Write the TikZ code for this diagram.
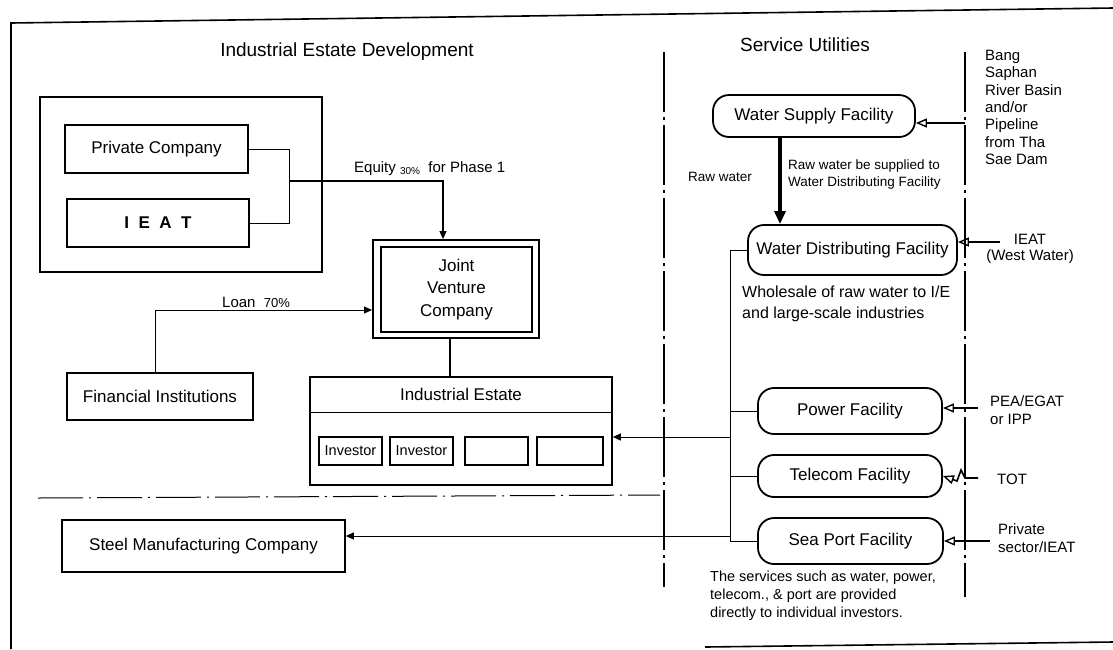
\documentclass[tikz,border=0pt]{standalone}
\usepackage{fontspec}
\setmainfont{Liberation Sans}
\usetikzlibrary{arrows.meta}
\newcommand{\fsz}[2]{\fontsize{#1}{#2}\selectfont}
\begin{document}
\begin{tikzpicture}[x=1pt,y=-1pt,
  box/.style={draw, line width=1.6pt, inner sep=0pt, align=center, font=\fsz{17}{20}},
  invbox/.style={draw, line width=1.3pt, inner sep=0pt, minimum height=28pt, font=\fsz{14.5}{16}},
  fac/.style={draw, line width=1.8pt, rounded corners=16pt, inner sep=0pt, align=center, font=\fsz{17}{20}},
  conn/.style={line width=1pt},
  arr/.style={conn, -{Triangle[length=8pt,width=7pt]}},
  thickarr/.style={line width=4pt, -{Triangle[length=13pt,width=11pt]}},
  src/.style={line width=1.6pt, -{Triangle[open,length=11pt,width=9pt,line width=1.4pt]}},
  sepv/.style={line width=2.4pt, dash pattern=on 60pt off 5pt on 3pt off 5pt},
  sepr/.style={line width=1.8pt, dash pattern=on 60pt off 5pt on 3pt off 5pt},
  seph/.style={line width=1pt, dash pattern=on 45pt off 6pt on 2pt off 6pt},
  lbl/.style={inner sep=0pt, align=left},
  frame/.style={line width=1.6pt}
]
\useasboundingbox (0,0) rectangle (1113,649);

% outer frame
\draw[frame] (11,649) -- (11,23) -- (1113,8);
\draw[frame] (705,647) -- (1113,642);

% separators
\draw[sepv] (664,52) -- (664,587);
\draw[sepr] (965,52) -- (965,597);
\draw[seph] (38,498) -- (660,495);

% titles
\node[lbl, font=\fsz{19}{22}] (t1) at (347,52) {Industrial Estate Development};
\node[lbl, font=\fsz{19}{22}] (t2) at (805,45) {Service Utilities};

% left group
\node[draw, line width=1.4pt, minimum width=282pt, minimum height=175pt, inner sep=0pt] (grp) at (181,184.5) {};
\node[box, minimum width=183pt, minimum height=48pt] (pc) at (156.5,149) {Private Company};
\node[box, minimum width=182pt, minimum height=48pt, font=\fsz{17}{20}\bfseries] (ieat) at (158,223) {I~~E~~A~~T};

% joint venture
\node[draw, line width=2pt, minimum width=166pt, minimum height=98pt, inner sep=0pt] (jvo) at (456,289) {};
\node[box, line width=1.1pt, minimum width=151pt, minimum height=85pt, font=\fsz{17}{22.5}] (jvi) at (456.5,289.5) {Joint\\Venture\\Company};

% financial institutions
\node[box, minimum width=186pt, minimum height=47pt] (fi) at (160,396.5) {Financial Institutions};

% industrial estate
\node[draw, line width=1.6pt, minimum width=302pt, minimum height=108pt, inner sep=0pt] (ie) at (461,431) {};
\coordinate (sepy) at (0,412);
\draw[line width=1pt] (ie.west |- sepy) -- (ie.east |- sepy);
\node[lbl, font=\fsz{17}{20}] (ietitle) at (461,394) {Industrial Estate};
\node[invbox, minimum width=63pt] (inv1) at (350.5,451) {Investor};
\node[invbox, minimum width=63pt] (inv2) at (421.5,451) {Investor};
\node[invbox, minimum width=63pt] (inv3) at (496.5,451) {};
\node[invbox, minimum width=66pt] (inv4) at (570,451) {};

% steel
\node[box, minimum width=283pt, minimum height=52pt] (steel) at (203.5,546) {Steel Manufacturing Company};

% left connectors
\coordinate (eqj) at (290,181);
\draw[conn] (pc.east) -- ++(41,0) |- (ieat.east);
\draw[arr, line width=1.4pt] (eqj) -| ([xshift=-13pt]jvo.north);
\node[lbl, anchor=west, font=\fsz{15}{18}] (eqlbl) at (354,169) {Equity \raisebox{-2pt}{\fsz{10}{12}30\%}\ \ for Phase 1};
\draw[arr] ([xshift=-5pt]fi.north) |- ([yshift=-21pt]jvo.west);
\node[lbl, anchor=west, font=\fsz{15}{18}] (loanlbl) at (222,302) {Loan\ \ {\fsz{13}{15}70\%}};
\draw[line width=1.6pt] ([xshift=-6pt]jvo.south) -- ([xshift=-6pt]jvo.south |- ie.north);

% facilities
\node[fac, minimum width=202pt, minimum height=42pt] (wsf) at (814,116) {Water Supply Facility};
\node[fac, minimum width=209pt, minimum height=50pt] (wdf) at (852.5,250) {Water Distributing Facility};
\node[fac, minimum width=184pt, minimum height=46pt] (pow) at (850,411) {Power Facility};
\node[fac, minimum width=184pt, minimum height=42pt] (tel) at (850,476) {Telecom Facility};
\node[fac, minimum width=185pt, minimum height=46pt] (sp) at (850.5,541) {Sea Port Facility};

\draw[thickarr] ([xshift=-34pt]wsf.south) -- ([xshift=-34pt]wsf.south |- wdf.north);
\node[lbl, anchor=west, font=\fsz{13.5}{16}] (rw) at (688,177) {Raw water};
\node[lbl, anchor=north west, font=\fsz{13.5}{16.5}] (rwnote) at (788,160) {Raw water be supplied to\\Water Distributing Facility};
\node[lbl, anchor=north west, font=\fsz{16}{20.5}] (whole) at (742,286) {Wholesale of raw water to I/E\\and large-scale industries};

% bus
\coordinate (bustop) at (730,250);
\draw[conn] (wdf.west) -- (bustop) |- (sp.west);
\draw[conn] (pow.west) -- (pow.west -| bustop);
\draw[conn] (tel.west) -- (tel.west -| bustop);
\coordinate (iesrc) at (730,437);
\coordinate (steelsrc) at (730,536);
\draw[arr] (iesrc) -- (iesrc -| ie.east);
\draw[arr] (steelsrc) -- (steelsrc -| steel.east);

\node[lbl, anchor=north west, font=\fsz{14.5}{18}] (foot) at (710,571) {The services such as water, power,\\telecom., \& port are provided\\directly to individual investors.};

% sources
\node[lbl, anchor=north west, font=\fsz{15}{17.3}] (bang) at (985,50) {Bang\\Saphan\\River Basin\\and/or\\Pipeline\\from Tha\\Sae Dam};
\coordinate (s1) at (965,123);
\draw[src] (s1) -- (s1 -| wsf.east);

\node[lbl, align=center, font=\fsz{15}{16.5}] (ieatw) at (1030,249) {IEAT\\(West Water)};
\coordinate (s2) at (1000,242);
\draw[src] (s2) -- (s2 -| wdf.east);

\node[lbl, anchor=north west, font=\fsz{15}{18}] (pea) at (990,395) {PEA/EGAT\\or IPP};
\coordinate (s3) at (978,408);
\draw[src] (s3) -- (s3 -| pow.east);

\node[lbl, anchor=west, font=\fsz{15}{18}] (tot) at (997,479) {TOT};
\coordinate (s4) at (978,478);
\draw[src] (s4) -- ++(-13,0) -- ++(-4,-8) -- ++(-4,11) -- (tel.east);

\node[lbl, anchor=north west, font=\fsz{15}{18}] (priv) at (998,523) {Private\\sector/IEAT};
\coordinate (s5) at (990,541);
\draw[src] (s5) -- (s5 -| sp.east);
\end{tikzpicture}
\end{document}
